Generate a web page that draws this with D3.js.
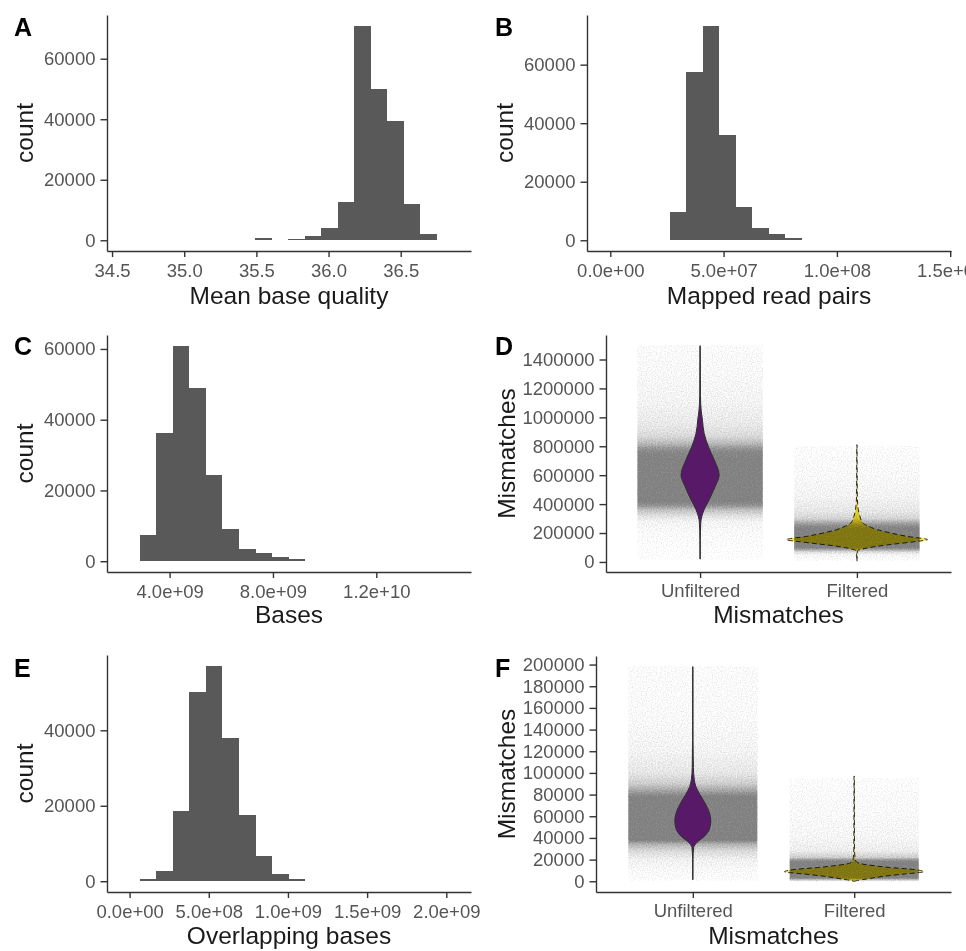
<!DOCTYPE html>
<html>
<head>
<meta charset="utf-8">
<script src="https://cdn.jsdelivr.net/npm/d3@7"></script>
<style>
html,body{margin:0;padding:0;background:#fff;overflow:hidden;}
svg{display:block;}
</style>
</head>
<body>
<svg id="chart" width="966" height="951"></svg>
<script>
// ---------------- DATA ----------------
// A: Mean base quality histogram
const qualBinStart = 35.493, qualBinWidth = 0.1143;
const qualCounts = [600, 0, 500, 1300, 3900, 12500, 70900, 49900, 39300, 11900, 2100];
const qualDomain = [34.465, 36.987];
const qualTicks = [34.5, 35.0, 35.5, 36.0, 36.5];

// B: Mapped read pairs histogram
const pairsBinStart = 2.617e7, pairsBinWidth = 7.30e6;
const pairsCounts = [9600, 57600, 73300, 36000, 11500, 4200, 2100, 700];
const pairsDomain = [-1.028e7, 1.5035e8];
const pairsTicks = [0, 5e7, 1e8, 1.5e8];

// C: Bases histogram
const basesBinStart = 2.839e9, basesBinWidth = 6.413e8;
const basesCounts = [7400, 36200, 60900, 49100, 24400, 9100, 3500, 2300, 1200, 650];
const basesDomain = [1.577e9, 1.5665e10];
const basesTicks = [4e9, 8e9, 1.2e10];

// E: Overlapping bases histogram
const overlapBinStart = 6.31e7, overlapBinWidth = 1.0463e8;
const overlapCounts = [600, 2700, 18700, 50200, 57100, 38000, 17600, 6800, 2000, 600];
const overlapDomain = [-1.427e8, 2.156e9];
const overlapTicks = [0, 5e8, 1e9, 1.5e9, 2e9];

const countTicks = [0, 20000, 40000, 60000];

// D / F: violin categories
const groups = ["Unfiltered", "Filtered"];

// D: Mismatches (all), value range and ticks
const dRange = [5000, 1495000];
const dTicks = [0, 200000, 400000, 600000, 800000, 1000000, 1200000, 1400000];
// violin density profiles: [value, relative density]
const dUnfiltViolin = [[20000,0.002],[150000,0.003],[271000,0.01],[314000,0.024],[361000,0.057],[430000,0.128],[521000,0.213],[602000,0.27],[706000,0.2],[797000,0.118],[890000,0.057],[982000,0.033],[1050000,0.015],[1150000,0.005],[1495000,0.002]];
const dFiltViolin = [[5000,0.002],[60000,0.004],[80000,0.015],[90000,0.085],[108000,0.28],[126000,0.57],[142000,0.85],[154000,1.0],[177000,0.71],[200000,0.48],[223000,0.29],[246000,0.17],[269000,0.085],[315000,0.043],[361000,0.02],[450000,0.006],[810000,0.002]];
// jittered point cloud density: [value, opacity]
const dUnfiltCloud = [[20000,0],[100000,0.015],[200000,0.04],[280000,0.1],[320000,0.25],[360000,0.5],[390000,0.85],[420000,1],[720000,1],[760000,0.95],[790000,0.8],[820000,0.55],[870000,0.3],[950000,0.18],[1100000,0.1],[1300000,0.06],[1500000,0.03]];
const dFiltCloud = [[10000,0.02],[50000,0.08],[70000,0.3],[85000,0.7],[100000,1],[230000,1],[250000,0.9],[270000,0.7],[300000,0.35],[350000,0.2],[450000,0.1],[600000,0.05],[800000,0.02]];

// F: Mismatches (filtered reads), value range and ticks
const fRange = [0, 198000];
const fTicks = [0,20000,40000,60000,80000,100000,120000,140000,160000,180000,200000];
const fUnfiltViolin = [[1500,0.002],[20000,0.003],[31200,0.012],[36000,0.06],[41800,0.165],[48000,0.228],[55600,0.248],[63300,0.228],[72500,0.165],[80100,0.097],[87700,0.041],[93800,0.02],[105000,0.008],[130000,0.003],[198000,0.002]];
const fFiltViolin = [[0,0.002],[500,0.03],[2100,0.17],[4600,0.41],[6700,0.69],[8800,0.96],[11300,0.76],[12800,0.48],[14300,0.28],[15900,0.11],[17400,0.04],[20000,0.015],[30000,0.005],[97000,0.002]];
const fUnfiltCloud = [[1000,0.02],[10000,0.05],[20000,0.12],[28000,0.3],[34000,0.6],[38000,1],[78000,1],[82000,0.8],[90000,0.4],[100000,0.2],[120000,0.1],[150000,0.05],[198000,0.03]];
const fFiltCloud = [[0,0.1],[1500,0.5],[3000,1],[18000,1],[20000,0.8],[22000,0.4],[28000,0.15],[40000,0.08],[60000,0.05],[95000,0.02]];

// ---------------- STYLE / LAYOUT ----------------
const FONT = "'Liberation Sans', Arial, Helvetica, sans-serif";
const AXIS_COLOR = "#333333";
const TICK_TEXT = "#555555";
const BAR_FILL = "#595959";
const CLOUD = "#808080";
const TICK_FS = 18.5, TITLE_FS = 24.5;

const svg = d3.select("#chart");
svg.append("rect").attr("width",966).attr("height",951).attr("fill","#fff");
const defs = svg.append("defs");

// grain filter for jittered point clouds: noise only on alpha, colour stays flat grey
const flt = defs.append("filter").attr("id","speckle").attr("color-interpolation-filters","sRGB")
  .attr("x",0).attr("y",0).attr("width",1).attr("height",1);
flt.append("feTurbulence").attr("type","fractalNoise").attr("baseFrequency",0.8).attr("numOctaves",1).attr("seed",3).attr("result","noise");
flt.append("feColorMatrix").attr("in","noise").attr("type","matrix")
  .attr("values","0 0 0 0 0  0 0 0 0 0  0 0 0 0 0  1 0 0 0 0").attr("result","gnoise");
flt.append("feComposite").attr("in","SourceAlpha").attr("in2","gnoise").attr("operator","arithmetic")
  .attr("k1",0).attr("k2",1).attr("k3",0.55).attr("k4",-0.275).attr("result","mask");
flt.append("feFlood").attr("flood-color",CLOUD).attr("result","fl");
flt.append("feComposite").attr("in","fl").attr("in2","mask").attr("operator","in");

function sci(v){
  let s = v.toExponential(1);
  let [m,e] = s.split("e");
  let sign = e[0], d = e.slice(1);
  if (d.length < 2) d = "0" + d;
  return m + "e" + sign + d;
}

function styleAxis(g){
  g.attr("font-family", FONT).attr("font-size", TICK_FS);
  g.select(".domain").attr("stroke", AXIS_COLOR).attr("stroke-width", 1.4);
  g.selectAll(".tick line").attr("stroke", AXIS_COLOR).attr("stroke-width", 1.4);
  g.selectAll(".tick text").attr("fill", TICK_TEXT);
}

function frame(p, xAxisGen, yAxisGen, xTitle, yTitle, label){
  const gx = svg.append("g").attr("transform", `translate(0,${p.y1})`).call(xAxisGen);
  styleAxis(gx);
  const gy = svg.append("g").attr("transform", `translate(${p.x0},0)`).call(yAxisGen);
  styleAxis(gy);
  svg.append("text").attr("x", (p.x0+p.x1)/2).attr("y", p.titleY)
    .attr("text-anchor","middle").attr("font-family",FONT).attr("font-size",TITLE_FS).attr("fill","#1a1a1a").text(xTitle);
  svg.append("text").attr("transform", `translate(${p.yTitleX},${(p.y0+p.y1)/2}) rotate(-90)`)
    .attr("text-anchor","middle").attr("font-family",FONT).attr("font-size",TITLE_FS).attr("fill","#1a1a1a").text(yTitle);
  svg.append("text").attr("x", p.lx).attr("y", p.ly).attr("font-family",FONT)
    .attr("font-weight","bold").attr("font-size",25).attr("fill","#000").text(label);
}

function histogram(p, binStart, binWidth, counts, domain, xTicks, xFmt, xTitle, label){
  const maxC = d3.max(counts);
  const x = d3.scaleLinear().domain(domain).range([p.x0, p.x1]);
  const y = d3.scaleLinear().domain([-0.05*maxC, 1.05*maxC]).range([p.y1, p.y0]);
  const bins = counts.map((c,i)=>({x0: binStart + i*binWidth, x1: binStart + (i+1)*binWidth, c}));
  svg.append("g").selectAll("rect").data(bins.filter(b=>b.c>0)).join("rect")
    .attr("x", d=>x(d.x0)).attr("width", d=>x(d.x1)-x(d.x0))
    .attr("y", d=>y(d.c)).attr("height", d=>y(0)-y(d.c))
    .attr("fill", BAR_FILL).attr("shape-rendering","crispEdges");
  const yt = countTicks.filter(t => t <= 1.05*maxC);
  frame(p,
    d3.axisBottom(x).tickValues(xTicks).tickFormat(xFmt).tickSize(6).tickSizeOuter(0).tickPadding(7),
    d3.axisLeft(y).tickValues(yt).tickFormat(d3.format("d")).tickSize(6.5).tickSizeOuter(0).tickPadding(5),
    xTitle, "count", label);
}

let gradId = 0;
function violinPanel(p, range, yTicks, violins, clouds, label){
  const span = range[1]-range[0];
  const y = d3.scaleLinear().domain([range[0]-0.05*span, range[1]+0.05*span]).range([p.y1, p.y0]);
  const x = d3.scalePoint().domain(groups).range([p.x0, p.x1]).padding(0.6);
  const step = x.step();
  const w = d3.scaleLinear().domain([0,1]).range([0, 0.45*step]);
  groups.forEach((grp, gi) => {
    const cx = x(grp);
    const cloud = clouds[gi];
    const vTop = d3.max(cloud, d=>d[0]), vBot = d3.min(cloud, d=>d[0]);
    const id = "cloud" + (gradId++);
    const lg = defs.append("linearGradient").attr("id", id)
      .attr("gradientUnits","userSpaceOnUse").attr("x1",0).attr("x2",0)
      .attr("y1", y(vTop)).attr("y2", y(vBot));
    cloud.slice().sort((a,b)=>b[0]-a[0]).forEach(d=>{
      lg.append("stop").attr("offset", (y(d[0])-y(vTop))/(y(vBot)-y(vTop)))
        .attr("stop-color", CLOUD).attr("stop-opacity", d[1]);
    });
    svg.append("rect").attr("x", cx-0.4*step).attr("width", 0.8*step)
      .attr("y", y(vTop)).attr("height", y(vBot)-y(vTop)).attr("fill", `url(#${id})`)
      .attr("filter","url(#speckle)");
  });
  groups.forEach((grp, gi) => {
    const cx = x(grp);
    const area = d3.area().curve(d3.curveMonotoneY)
      .y(d=>y(d[0])).x0(d=>cx - w(d[1])).x1(d=>cx + w(d[1]));
    const path = svg.append("path").attr("d", area(violins[gi]))
      .attr("stroke", "#2e2e2e").attr("stroke-width", 1).attr("stroke-linejoin","round");
    if (gi === 0) {
      path.attr("fill", "#581a68");
    } else {
      path.attr("fill", "#fde725").attr("stroke-dasharray","5,3").style("mix-blend-mode","multiply");
    }
  });
  frame(p,
    d3.axisBottom(x).tickSize(6).tickSizeOuter(0).tickPadding(6),
    d3.axisLeft(y).tickValues(yTicks).tickFormat(d3.format("d")).tickSize(6.5).tickSizeOuter(0).tickPadding(5),
    "Mismatches", "Mismatches", label);
}

const L = {
  A:{x0:107, x1:471, y0:15,  y1:251, lx:14,  ly:35.5,  titleY:304, yTitleX:33},
  B:{x0:587, x1:951, y0:15,  y1:251, lx:495, ly:35.5,  titleY:304, yTitleX:513},
  C:{x0:107, x1:471, y0:335, y1:572, lx:14,  ly:355,   titleY:623, yTitleX:33},
  D:{x0:606, x1:951, y0:335, y1:572, lx:495, ly:355,   titleY:623, yTitleX:515},
  E:{x0:107, x1:471, y0:655, y1:892, lx:14,  ly:676.5, titleY:944, yTitleX:33},
  F:{x0:596, x1:951, y0:656, y1:892, lx:495, ly:676.5, titleY:944, yTitleX:515}
};

histogram(L.A, qualBinStart, qualBinWidth, qualCounts, qualDomain, qualTicks, d3.format(".1f"), "Mean base quality", "A");
histogram(L.B, pairsBinStart, pairsBinWidth, pairsCounts, pairsDomain, pairsTicks, sci, "Mapped read pairs", "B");
histogram(L.C, basesBinStart, basesBinWidth, basesCounts, basesDomain, basesTicks, sci, "Bases", "C");
histogram(L.E, overlapBinStart, overlapBinWidth, overlapCounts, overlapDomain, overlapTicks, sci, "Overlapping bases", "E");
violinPanel(L.D, dRange, dTicks, [dUnfiltViolin, dFiltViolin], [dUnfiltCloud, dFiltCloud], "D");
violinPanel(L.F, fRange, fTicks, [fUnfiltViolin, fFiltViolin], [fUnfiltCloud, fFiltCloud], "F");
</script>
</body>
</html>
